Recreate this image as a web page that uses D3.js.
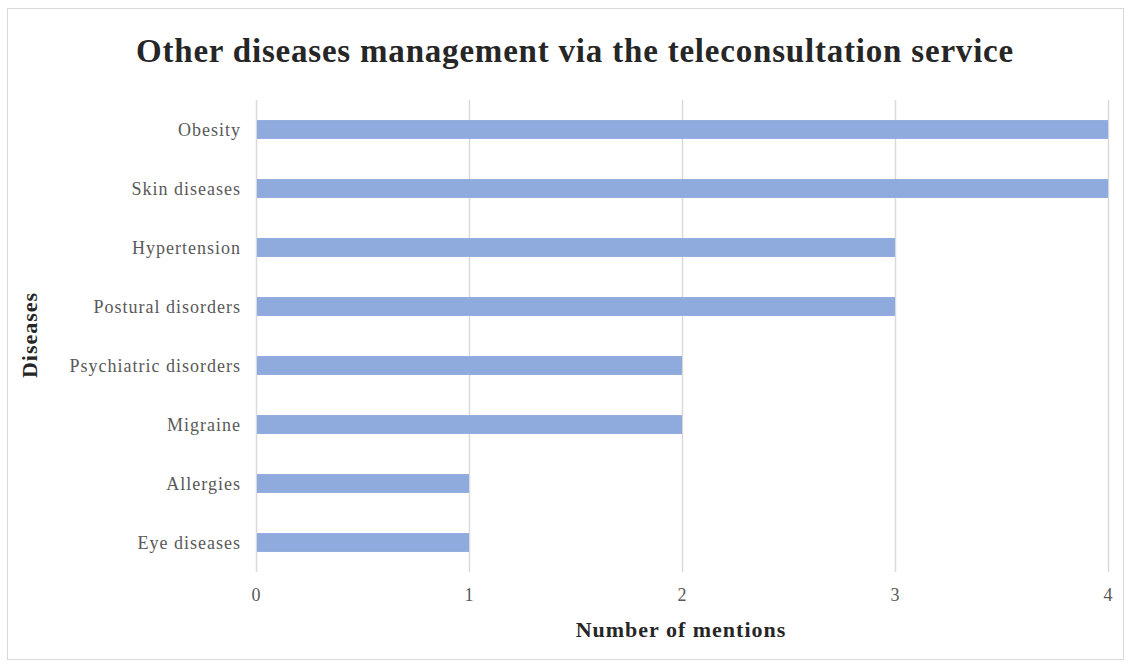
<!DOCTYPE html>
<html>
<head>
<meta charset="utf-8">
<script src="https://cdn.jsdelivr.net/npm/d3@7"></script>
<style>
  html, body { margin: 0; padding: 0; background: #fff; }
  svg { display: block; }
</style>
</head>
<body>
<svg id="chart" width="1131" height="666"></svg>
<script>
// Diseases managed through teleconsultation, top to bottom
const diseases = ["Obesity", "Skin diseases", "Hypertension", "Postural disorders",
                  "Psychiatric disorders", "Migraine", "Allergies", "Eye diseases"];
const mentions = [4, 4, 3, 3, 2, 2, 1, 1];
const xTicks = [0, 1, 2, 3, 4];

const svg = d3.select("#chart");
const serif = "'Liberation Serif', 'Times New Roman', serif";

// outer frame
svg.append("rect")
  .attr("x", 7.5).attr("y", 8.5)
  .attr("width", 1116).attr("height", 651)
  .attr("fill", "#fff").attr("stroke", "#d9d9d9").attr("stroke-width", 1);

const plot = { left: 256, right: 1108, top: 100, bottom: 572 };

const x = d3.scaleLinear().domain([0, 4]).range([plot.left, plot.right]);
const y = d3.scaleBand().domain(diseases).range([plot.top, plot.bottom])
  .paddingInner(0.68).paddingOuter(0.34);

// vertical gridlines
svg.append("g").selectAll("line").data(xTicks).join("line")
  .attr("x1", d => x(d) + 0.5).attr("x2", d => x(d) + 0.5)
  .attr("y1", plot.top).attr("y2", plot.bottom)
  .attr("stroke", "#d9d9d9").attr("stroke-width", 1.5);

// bars
svg.append("g").selectAll("rect").data(diseases).join("rect")
  .attr("x", x(0) + 1)
  .attr("y", d => y(d))
  .attr("width", (d, i) => x(mentions[i]) - x(0) - 1)
  .attr("height", y.bandwidth())
  .attr("fill", "#8faadc");

// category labels
svg.append("g").selectAll("text").data(diseases).join("text")
  .attr("x", plot.left - 15)
  .attr("y", d => y(d) + y.bandwidth() / 2)
  .attr("dy", "0.35em")
  .attr("text-anchor", "end")
  .attr("font-family", serif).attr("font-size", 18)
  .attr("letter-spacing", 1)
  .attr("fill", "#595959")
  .text(d => d);

// x tick labels
svg.append("g").selectAll("text").data(xTicks).join("text")
  .attr("x", d => x(d))
  .attr("y", 595)
  .attr("dy", "0.35em")
  .attr("text-anchor", "middle")
  .attr("font-family", serif).attr("font-size", 18)
  .attr("fill", "#595959")
  .text(d => d);

// title
svg.append("text")
  .attr("x", 575).attr("y", 50).attr("dy", "0.35em")
  .attr("text-anchor", "middle")
  .attr("font-family", serif).attr("font-size", 33).attr("font-weight", "bold")
  .attr("letter-spacing", 0.8)
  .attr("fill", "#262626")
  .text("Other diseases management via the teleconsultation service");

// axis titles
svg.append("text")
  .attr("x", 681).attr("y", 629).attr("dy", "0.35em")
  .attr("text-anchor", "middle")
  .attr("font-family", serif).attr("font-size", 22).attr("font-weight", "bold")
  .attr("letter-spacing", 1)
  .attr("fill", "#262626")
  .text("Number of mentions");

svg.append("text")
  .attr("transform", "translate(29,335) rotate(-90)")
  .attr("dy", "0.35em")
  .attr("text-anchor", "middle")
  .attr("font-family", serif).attr("font-size", 22).attr("font-weight", "bold")
  .attr("letter-spacing", 1)
  .attr("fill", "#262626")
  .text("Diseases");
</script>
</body>
</html>
